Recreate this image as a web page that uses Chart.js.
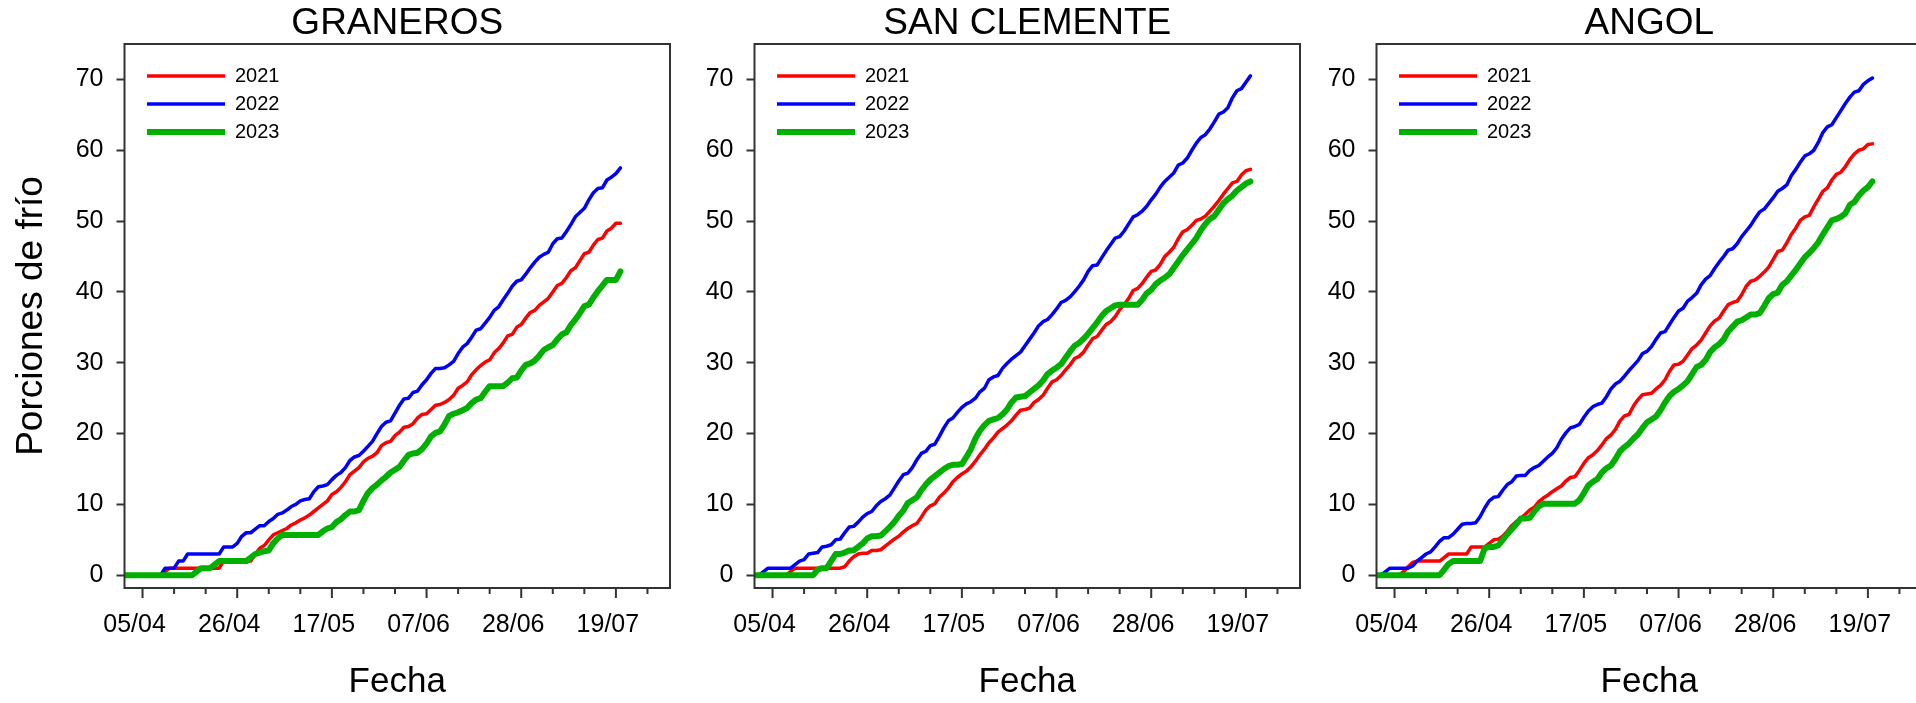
<!DOCTYPE html>
<html lang="es">
<head>
<meta charset="UTF-8">
<title>Porciones de frío acumuladas</title>
<script src="https://cdn.jsdelivr.net/npm/chart.js@4.4.1/dist/chart.umd.min.js"></script>
<style>
  body { margin: 0; background: #fff; overflow: hidden; width: 1916px; height: 703px; position: relative; }
  .panel { position: absolute; top: 0; }
</style>
</head>
<body>
<canvas id="graneros" class="panel" width="700" height="703" style="left:0px"></canvas>
<canvas id="sanClemente" class="panel" width="700" height="703" style="left:630px"></canvas>
<canvas id="angol" class="panel" width="700" height="703" style="left:1252px"></canvas>

<script>
// dia 0 = 01/04, dia 110 = 20/07
const dias = Array.from({ length: 111 }, (_, i) => i);

const anios = ['2021', '2022', '2023'];
const colores = ['#ff0000', '#0000ff', '#00b000'];

// eje x: marcas semanales, etiqueta cada tres semanas
const ticksSemana = [4, 11, 18, 25, 32, 39, 46, 53, 60, 67, 74, 81, 88, 95, 102, 109, 116];
const diasEtiqueta = [4, 25, 46, 67, 88, 109];
const etiquetasFecha = ['05/04', '26/04', '17/05', '07/06', '28/06', '19/07'];
const ticksY = [0, 10, 20, 30, 40, 50, 60, 70];

// porciones de frio acumuladas, un valor por dia
const graneros2021 = [
  0, 0, 0, 0, 0, 0, 0, 0, 0, 0.5,
  1, 1, 1, 1, 1, 1, 1, 1, 1, 1,
  1, 1, 2, 2, 2, 2, 2, 2, 2, 3,
  3.8, 4.2, 5, 5.7, 6, 6.3, 6.6, 7.1, 7.4, 7.8,
  8.1, 8.5, 9, 9.5, 10, 10.5, 11.4, 11.8, 12.4, 13.2,
  14.2, 14.7, 15.2, 16, 16.5, 16.8, 17.3, 18.3, 18.7, 18.9,
  19.7, 20.2, 20.9, 21.0, 21.4, 22.2, 22.7, 22.8, 23.4, 24.0,
  24.1, 24.4, 24.8, 25.4, 26.4, 26.8, 27.3, 28.3, 29.0, 29.6,
  30.1, 30.4, 31.4, 32.0, 32.8, 33.8, 34.0, 35.0, 35.4, 36.3,
  37.1, 37.4, 38.1, 38.6, 39.1, 40.0, 40.9, 41.2, 42.0, 43.0,
  43.4, 44.4, 45.4, 45.6, 46.6, 47.4, 47.6, 48.6, 49.0, 49.7,
  49.7
];
const graneros2022 = [
  0, 0, 0, 0, 0, 0, 0, 0, 0, 1,
  1, 1, 2, 2, 3, 3, 3, 3, 3, 3,
  3, 3, 4, 4, 4, 4.5, 5.5, 6, 6, 6.5,
  7, 7, 7.6, 8, 8.6, 8.8, 9.2, 9.7, 10, 10.5,
  10.7, 10.8, 11.8, 12.5, 12.6, 12.8, 13.5, 14.1, 14.5, 15.2,
  16.2, 16.7, 16.9, 17.5, 18.2, 18.9, 20, 21, 21.6, 21.8,
  22.9, 24.0, 24.9, 25.0, 25.8, 26.0, 26.9, 27.6, 28.5, 29.2,
  29.2, 29.3, 29.7, 30.2, 31.3, 32.2, 32.7, 33.6, 34.6, 34.8,
  35.6, 36.4, 37.4, 37.9, 38.9, 39.8, 40.8, 41.5, 41.7, 42.5,
  43.4, 44.2, 44.9, 45.3, 45.6, 46.8, 47.5, 47.6, 48.5, 49.5,
  50.6, 51.2, 51.8, 53.0, 54.0, 54.6, 54.7, 55.8, 56.2, 56.7,
  57.5
];
const graneros2023 = [
  0, 0, 0, 0, 0, 0, 0, 0, 0, 0,
  0, 0, 0, 0, 0, 0, 0.5, 1, 1, 1,
  1.5, 2, 2, 2, 2, 2, 2, 2, 2.5, 3,
  3.2, 3.4, 3.5, 4.5, 5.2, 5.7, 5.7, 5.7, 5.7, 5.7,
  5.7, 5.7, 5.7, 5.7, 6.2, 6.6, 6.8, 7.5, 7.9, 8.5,
  9, 9, 9.2, 10.5, 11.6, 12.3, 12.8, 13.4, 13.9, 14.5,
  14.9, 15.3, 16.2, 17.0, 17.2, 17.3, 17.8, 18.6, 19.6, 20.1,
  20.3, 21.3, 22.5, 22.8, 23.0, 23.3, 23.6, 24.3, 24.8, 25.0,
  25.9, 26.7, 26.7, 26.7, 26.7, 27.2, 27.8, 27.9, 28.9, 29.7,
  29.9, 30.3, 31.0, 31.8, 32.2, 32.5, 33.3, 34.0, 34.3, 35.3,
  36.1, 37.0, 38.0, 38.2, 39.2, 40.1, 40.9, 41.7, 41.7, 41.7,
  42.9
];

const sanClemente2021 = [
  0, 0, 0, 0, 0, 0, 0, 0, 0.5, 1,
  1, 1, 1, 1, 1, 1, 1, 1, 1, 1,
  1.2, 2, 2.6, 3, 3.1, 3.1, 3.5, 3.5, 3.6, 4.1,
  4.6, 5.1, 5.5, 6.1, 6.6, 7.0, 7.3, 8.2, 9.2, 9.8,
  10.1, 11.0, 11.6, 12.3, 13.2, 13.8, 14.3, 14.7, 15.3, 16.1,
  17.0, 17.8, 18.7, 19.4, 20.2, 20.7, 21.2, 21.8, 22.6, 23.3,
  23.4, 23.6, 24.4, 24.8, 25.4, 26.4, 27.3, 27.6, 28.2, 29.0,
  29.7, 30.6, 30.9, 31.5, 32.5, 33.4, 33.7, 34.6, 35.4, 35.8,
  36.5, 37.5, 38.2, 39.1, 40.2, 40.5, 41.2, 42.1, 42.9, 43.1,
  43.9, 45.0, 45.6, 46.3, 47.5, 48.5, 48.8, 49.4, 50.1, 50.3,
  50.7, 51.4, 52.1, 52.9, 53.8, 54.6, 55.4, 55.6, 56.5, 57.1,
  57.3
];
const sanClemente2022 = [
  0, 0, 0.5, 1, 1, 1, 1, 1, 1, 1.5,
  2, 2.2, 3, 3.1, 3.2, 4, 4.1, 4.3, 5, 5.1,
  6, 6.8, 6.9, 7.5, 8.2, 8.7, 9.0, 9.8, 10.4, 10.8,
  11.3, 12.3, 13.3, 14.2, 14.4, 15.2, 16.3, 17.2, 17.5, 18.3,
  18.5, 19.6, 20.8, 21.8, 22.2, 23.0, 23.7, 24.2, 24.5, 25.0,
  25.9, 26.4, 27.6, 28.0, 28.2, 29.2, 29.9, 30.5, 31.0, 31.5,
  32.4, 33.3, 34.2, 35.2, 35.8, 36.1, 36.8, 37.6, 38.5, 38.8,
  39.3, 40.0, 40.8, 41.7, 42.9, 43.7, 43.8, 44.8, 45.8, 46.7,
  47.6, 47.8, 48.6, 49.6, 50.6, 50.9, 51.4, 52.1, 53.0, 53.8,
  54.8, 55.6, 56.2, 56.8, 57.9, 58.2, 58.9, 60.0, 61.0, 61.8,
  62.2, 63.0, 64.0, 65.1, 65.4, 66.0, 67.4, 68.4, 68.7, 69.6,
  70.5
];
const sanClemente2023 = [
  0, 0, 0, 0, 0, 0, 0, 0, 0, 0,
  0, 0, 0, 0, 0.8, 1, 1, 2, 3, 3,
  3.2, 3.5, 3.5, 4, 4.5, 5.2, 5.5, 5.5, 5.6, 6.2,
  6.8, 7.5, 8.4, 9.1, 10.2, 10.6, 11.0, 12.0, 12.8, 13.5,
  14.0, 14.5, 15.0, 15.4, 15.6, 15.6, 15.7, 16.7, 17.8, 19.3,
  20.4, 21.2, 21.8, 22.0, 22.2, 22.7, 23.4, 24.4, 25.1, 25.2,
  25.3, 25.8, 26.3, 26.8, 27.5, 28.4, 28.9, 29.3, 29.8, 30.7,
  31.6, 32.4, 32.8, 33.4, 34.1, 34.9, 35.7, 36.6, 37.3, 37.7,
  38.1, 38.2, 38.2, 38.2, 38.2, 38.2, 38.9, 39.8, 40.3, 41.1,
  41.6, 42.0, 42.5, 43.4, 44.3, 45.2, 46.0, 46.8, 47.6, 48.7,
  49.6, 50.3, 50.7, 51.6, 52.5, 53.1, 53.6, 54.3, 54.8, 55.3,
  55.6
];

const angol2021 = [
  0, 0, 0, 0, 0, 0, 0.5, 1.2, 1.8, 2,
  2, 2, 2, 2, 2, 2.5, 3, 3, 3, 3,
  3, 4, 4, 4, 4, 4.5, 5, 5.1, 5.5, 6.2,
  7, 7.6, 8, 8.6, 9.2, 9.6, 10.4, 10.9, 11.3, 11.8,
  12.2, 12.6, 13.3, 13.8, 13.9, 14.8, 15.8, 16.6, 17.0, 17.6,
  18.4, 19.3, 19.8, 20.6, 21.8, 22.5, 22.7, 23.9, 24.8, 25.5,
  25.6, 25.7, 26.3, 26.8, 27.6, 28.8, 29.7, 29.8, 30.2, 31.1,
  32.0, 32.5, 33.2, 34.2, 35.2, 35.9, 36.3, 37.3, 38.2, 38.5,
  38.7, 39.6, 40.8, 41.5, 41.7, 42.2, 42.8, 43.5, 44.6, 45.7,
  45.9, 46.9, 48.1, 49.0, 50.1, 50.6, 50.8, 52.0, 53.1, 54.2,
  54.7, 55.8, 56.6, 56.9, 57.7, 58.7, 59.5, 60.0, 60.2, 60.8,
  60.9
];
const angol2022 = [
  0, 0, 0.5, 1, 1, 1, 1, 1, 1.3, 2,
  2.5, 3, 3.3, 4, 4.8, 5.3, 5.3, 5.8, 6.5, 7.2,
  7.3, 7.3, 7.4, 8.3, 9.5, 10.5, 11, 11.1, 12, 12.8,
  13.2, 14, 14.1, 14.1, 14.8, 15.2, 15.5, 16.1, 16.7, 17.2,
  18, 19.2, 20.1, 20.8, 21, 21.3, 22.3, 23.2, 23.8, 24.1,
  24.3, 25.2, 26.3, 27.0, 27.4, 28.1, 28.9, 29.6, 30.3, 31.3,
  31.6, 32.3, 33.3, 34.2, 34.4, 35.4, 36.4, 37.3, 37.7, 38.7,
  39.2, 39.8, 41.0, 41.8, 42.3, 43.3, 44.2, 45.0, 45.9, 46.1,
  46.8, 47.8, 48.6, 49.4, 50.4, 51.3, 51.7, 52.5, 53.3, 54.2,
  54.6, 55.1, 56.4, 57.3, 58.3, 59.2, 59.5, 60.0, 61.1, 62.5,
  63.3, 63.6, 64.6, 65.6, 66.6, 67.5, 68.2, 68.4, 69.3, 69.8,
  70.2
];
const angol2023 = [
  0, 0, 0, 0, 0, 0, 0, 0, 0, 0,
  0, 0, 0, 0, 0, 0.8, 1.6, 2, 2, 2,
  2, 2, 2, 2, 3.8, 4, 4, 4.2, 5, 5.8,
  6.5, 7.2, 8, 8, 8.1, 9, 9.7, 10.1, 10.1, 10.1,
  10.1, 10.1, 10.1, 10.1, 10.1, 10.6, 11.6, 12.7, 13.2, 13.6,
  14.5, 15.1, 15.5, 16.4, 17.5, 18.1, 18.6, 19.3, 19.9, 20.8,
  21.6, 22.0, 22.4, 23.3, 24.4, 25.3, 25.9, 26.3, 26.8, 27.4,
  28.4, 29.4, 29.7, 30.4, 31.5, 32.2, 32.6, 33.3, 34.4, 35.1,
  35.8, 36.0, 36.4, 36.8, 36.8, 37.0, 38.0, 39.1, 39.7, 39.9,
  41.0, 41.5, 42.3, 43.1, 44.0, 44.9, 45.5, 46.2, 47.0, 48.1,
  49.1, 50.1, 50.3, 50.6, 51.1, 52.3, 52.7, 53.6, 54.3, 54.8,
  55.6
];

Chart.defaults.font.family = "'Liberation Sans', Arial, sans-serif";
Chart.defaults.color = '#000';

const grosores = [3.5, 3.5, 6];
const ordenes = [2, 1, 0]; // 2023 queda encima

// recuadro del grafico, marcas del eje x y posicion de la leyenda
const marco = {
  id: 'marco',
  afterLayout(chart) {
    const a = chart.chartArea;
    const leyenda = chart.legend;
    leyenda.left = a.left + 14.5;
    leyenda.top = a.top + 14;
    leyenda.bottom = a.bottom;
  },
  afterDraw(chart) {
    const { ctx, chartArea: a } = chart;
    const x = chart.scales.x;
    ctx.save();
    ctx.strokeStyle = '#333';
    ctx.lineWidth = 2;
    ctx.strokeRect(a.left, a.top, a.right - a.left, a.bottom - a.top);
    ctx.beginPath();
    ticksSemana.forEach(d => {
      const px = x.getPixelForValue(d);
      ctx.moveTo(px, a.bottom);
      ctx.lineTo(px, a.bottom + (diasEtiqueta.includes(d) ? 10 : 6));
    });
    ctx.stroke();
    ctx.restore();
  }
};

function crearPanel(id, titulo, series, conTituloY) {
  return new Chart(document.getElementById(id), {
    type: 'line',
    data: {
      labels: dias,
      datasets: series.map((valores, k) => ({
        label: anios[k],
        data: valores,
        borderColor: colores[k],
        backgroundColor: colores[k],
        borderWidth: grosores[k],
        pointBorderWidth: grosores[k],
        borderCapStyle: 'round',
        borderJoinStyle: 'round',
        order: ordenes[k]
      }))
    },
    options: {
      responsive: false,
      animation: false,
      devicePixelRatio: 1,
      layout: { padding: { left: 0, right: 30, top: 0, bottom: 0 } },
      elements: {
        point: { radius: 0 },
        line: { tension: 0, fill: false }
      },
      scales: {
        x: {
          type: 'linear',
          bounds: 'data',
          min: 0,
          max: 121,
          afterBuildTicks: s => { s.ticks = ticksSemana.map(v => ({ value: v })); },
          afterFit: s => { s.height = 115; },
          grid: { display: false, drawTicks: false },
          border: { display: false },
          ticks: {
            autoSkip: false,
            maxRotation: 0,
            minRotation: 0,
            padding: 22,
            labelOffset: -8,
            color: '#000',
            font: { size: 25 },
            callback: v => {
              const k = diasEtiqueta.indexOf(v);
              return k < 0 ? '' : etiquetasFecha[k];
            }
          },
          title: {
            display: true,
            text: 'Fecha',
            color: '#000',
            font: { size: 35, lineHeight: 1 },
            padding: { top: 0, bottom: 3 }
          }
        },
        y: {
          bounds: 'data',
          min: -1.8,
          max: 75,
          afterBuildTicks: s => { s.ticks = ticksY.map(v => ({ value: v })); },
          afterFit: s => { s.width = 124.5; },
          grid: { drawOnChartArea: false, drawTicks: true, tickLength: 8, tickColor: '#333', tickWidth: 2 },
          border: { display: false },
          ticks: { padding: 13, color: '#000', font: { size: 25 } },
          title: {
            display: conTituloY,
            text: 'Porciones de frío',
            color: '#000',
            font: { size: 37, lineHeight: 1 },
            padding: { top: 13, bottom: 0 }
          }
        }
      },
      plugins: {
        title: {
          display: true,
          text: titulo,
          fullSize: false,
          color: '#000',
          font: { size: 37, weight: 'normal', lineHeight: 1 },
          padding: { top: 5, bottom: 2 }
        },
        legend: {
          position: 'chartArea',
          align: 'start',
          labels: {
            usePointStyle: true,
            pointStyle: 'line',
            pointStyleWidth: 78,
            padding: 8,
            color: '#000',
            font: { size: 20 },
            sort: (a, b) => a.datasetIndex - b.datasetIndex
          }
        },
        tooltip: { enabled: false }
      }
    },
    plugins: [marco]
  });
}

crearPanel('graneros', 'GRANEROS', [graneros2021, graneros2022, graneros2023], true);
crearPanel('sanClemente', 'SAN CLEMENTE', [sanClemente2021, sanClemente2022, sanClemente2023], false);
crearPanel('angol', 'ANGOL', [angol2021, angol2022, angol2023], false);
</script>
</body>
</html>
